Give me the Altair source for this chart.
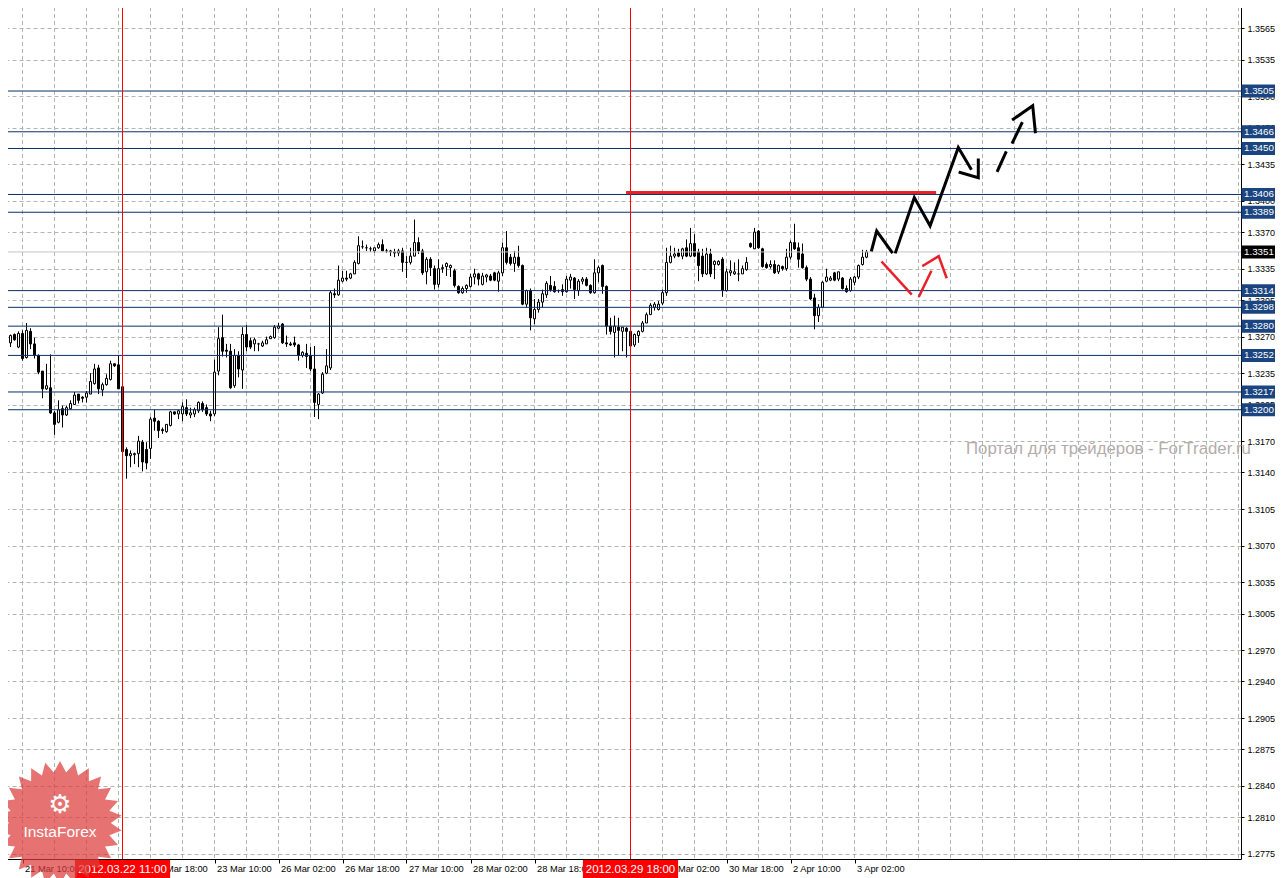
import math
import altair as alt
import pandas as pd

# ---------------- data ----------------
FIRST_BAR = -5  # bar index 0 = 21 Mar 10:00 (H1 bars)

opens = [1.3261, 1.3275, 1.3264, 1.3272, 1.3260,
         1.3273, 1.3250, 1.3275, 1.3263, 1.3252, 1.3237, 1.3220, 1.3221, 1.3197, 1.3188,
         1.3201, 1.3195, 1.3201, 1.3205, 1.3215, 1.3212, 1.3212, 1.3215, 1.3225, 1.3240,
         1.3219, 1.3224, 1.3229, 1.3244, 1.3243, 1.3222, 1.3162, 1.3156, 1.3157, 1.3158,
         1.3169, 1.3162, 1.3163, 1.3192, 1.3189, 1.3181, 1.3179, 1.3185, 1.3198, 1.3196,
         1.3196, 1.3202, 1.3195, 1.3196, 1.3199, 1.3206, 1.3202, 1.3196, 1.3196, 1.3237,
         1.3269, 1.3257, 1.3256, 1.3223, 1.3252, 1.3238, 1.3272, 1.3266, 1.3263, 1.3263,
         1.3261, 1.3263, 1.3268, 1.3269, 1.3278, 1.3282, 1.3264, 1.3263, 1.3264, 1.3262,
         1.3252, 1.3254, 1.3252, 1.3239, 1.3205, 1.3216, 1.3235, 1.3240, 1.3311, 1.3310,
         1.3323, 1.3326, 1.3326, 1.3330, 1.3340, 1.3356, 1.3355, 1.3354, 1.3352, 1.3355,
         1.3358, 1.3352, 1.3352, 1.3351, 1.3350, 1.3352, 1.3341, 1.3341, 1.3347, 1.3360,
         1.3352, 1.3332, 1.3344, 1.3335, 1.3320, 1.3335, 1.3337, 1.3336, 1.3333, 1.3318,
         1.3312, 1.3316, 1.3318, 1.3327, 1.3330, 1.3320, 1.3327, 1.3328, 1.3331, 1.3323,
         1.3331, 1.3355, 1.3346, 1.3340, 1.3346, 1.3338, 1.3301, 1.3314, 1.3287, 1.3296,
         1.3303, 1.3310, 1.3319, 1.3318, 1.3314, 1.3315, 1.3313, 1.3324, 1.3326, 1.3314,
         1.3323, 1.3325, 1.3319, 1.3312, 1.3331, 1.3338, 1.3318, 1.3280, 1.3274, 1.3279,
         1.3275, 1.3278, 1.3275, 1.3262, 1.3271, 1.3275, 1.3283, 1.3291, 1.3298, 1.3296,
         1.3302, 1.3312, 1.3341, 1.3347, 1.3350, 1.3347, 1.3355, 1.3347, 1.3359, 1.3351,
         1.3347, 1.3330, 1.3349, 1.3339, 1.3339, 1.3344, 1.3314, 1.3331, 1.3330, 1.3330,
         1.3330, 1.3334, 1.3359, 1.3354, 1.3371, 1.3354, 1.3339, 1.3337, 1.3339, 1.3332,
         1.3337, 1.3335, 1.3346, 1.3360, 1.3355, 1.3349, 1.3336, 1.3325, 1.3307, 1.3290,
         1.3298, 1.3323, 1.3324, 1.3331, 1.3325, 1.3326, 1.3316, 1.3314, 1.3322, 1.3327,
         1.3339, 1.3346]

highs = [1.3281, 1.3275, 1.3272, 1.3273, 1.3275,
         1.3276, 1.3283, 1.3278, 1.3269, 1.3253, 1.3237, 1.3244, 1.3253, 1.3199, 1.3209,
         1.3204, 1.3204, 1.3209, 1.3217, 1.3215, 1.3213, 1.3218, 1.3235, 1.3244, 1.3243,
         1.3226, 1.3234, 1.3247, 1.3244, 1.3252, 1.3224, 1.3164, 1.3161, 1.3159, 1.3175,
         1.3171, 1.3169, 1.3193, 1.3200, 1.3190, 1.3183, 1.3186, 1.3199, 1.3198, 1.3200,
         1.3207, 1.3210, 1.3202, 1.3202, 1.3208, 1.3208, 1.3205, 1.3199, 1.3248, 1.3279,
         1.3291, 1.3263, 1.3263, 1.3258, 1.3256, 1.3279, 1.3281, 1.3269, 1.3269, 1.3264,
         1.3266, 1.3270, 1.3271, 1.3281, 1.3283, 1.3283, 1.3271, 1.3265, 1.3270, 1.3263,
         1.3256, 1.3263, 1.3260, 1.3261, 1.3216, 1.3236, 1.3258, 1.3314, 1.3316, 1.3338,
         1.3333, 1.3333, 1.3331, 1.3343, 1.3366, 1.3362, 1.3358, 1.3356, 1.3355, 1.3360,
         1.3363, 1.3354, 1.3353, 1.3354, 1.3354, 1.3355, 1.3347, 1.3355, 1.3382, 1.3365,
         1.3354, 1.3346, 1.3346, 1.3338, 1.3344, 1.3339, 1.3341, 1.3339, 1.3335, 1.3319,
         1.3318, 1.3320, 1.3330, 1.3335, 1.3331, 1.3331, 1.3330, 1.3330, 1.3332, 1.3333,
         1.3360, 1.3371, 1.3349, 1.3352, 1.3357, 1.3339, 1.3315, 1.3316, 1.3306, 1.3306,
         1.3315, 1.3323, 1.3328, 1.3323, 1.3315, 1.3320, 1.3328, 1.3330, 1.3327, 1.3325,
         1.3327, 1.3327, 1.3320, 1.3344, 1.3338, 1.3339, 1.3319, 1.3288, 1.3290, 1.3288,
         1.3279, 1.3279, 1.3277, 1.3273, 1.3276, 1.3285, 1.3293, 1.3302, 1.3303, 1.3304,
         1.3315, 1.3355, 1.3357, 1.3355, 1.3354, 1.3355, 1.3363, 1.3374, 1.3368, 1.3354,
         1.3354, 1.3355, 1.3354, 1.3343, 1.3343, 1.3346, 1.3335, 1.3343, 1.3341, 1.3344,
         1.3338, 1.3346, 1.3360, 1.3374, 1.3372, 1.3355, 1.3341, 1.3343, 1.3343, 1.3339,
         1.3338, 1.3354, 1.3362, 1.3378, 1.3360, 1.3359, 1.3338, 1.3327, 1.3311, 1.3301,
         1.3323, 1.3335, 1.3328, 1.3332, 1.3332, 1.3327, 1.3319, 1.3327, 1.3328, 1.3339,
         1.3353, 1.3353]

lows = [1.3260, 1.3264, 1.3260, 1.3266, 1.3259,
        1.3247, 1.3249, 1.3258, 1.3249, 1.3234, 1.3211, 1.3219, 1.3196, 1.3176, 1.3187,
        1.3183, 1.3194, 1.3200, 1.3205, 1.3206, 1.3207, 1.3207, 1.3215, 1.3224, 1.3215,
        1.3213, 1.3223, 1.3228, 1.3241, 1.3220, 1.3140, 1.3134, 1.3145, 1.3148, 1.3145,
        1.3141, 1.3143, 1.3153, 1.3180, 1.3173, 1.3177, 1.3178, 1.3184, 1.3195, 1.3191,
        1.3189, 1.3194, 1.3192, 1.3193, 1.3197, 1.3198, 1.3194, 1.3189, 1.3194, 1.3233,
        1.3251, 1.3250, 1.3220, 1.3221, 1.3231, 1.3220, 1.3256, 1.3258, 1.3256, 1.3256,
        1.3260, 1.3263, 1.3268, 1.3268, 1.3277, 1.3263, 1.3260, 1.3261, 1.3260, 1.3247,
        1.3250, 1.3240, 1.3237, 1.3193, 1.3191, 1.3215, 1.3234, 1.3238, 1.3307, 1.3309,
        1.3322, 1.3323, 1.3325, 1.3330, 1.3339, 1.3354, 1.3352, 1.3351, 1.3350, 1.3354,
        1.3352, 1.3350, 1.3347, 1.3346, 1.3347, 1.3332, 1.3326, 1.3339, 1.3347, 1.3349,
        1.3329, 1.3320, 1.3328, 1.3315, 1.3317, 1.3331, 1.3328, 1.3327, 1.3317, 1.3311,
        1.3311, 1.3312, 1.3317, 1.3320, 1.3319, 1.3319, 1.3322, 1.3323, 1.3323, 1.3313,
        1.3328, 1.3339, 1.3338, 1.3332, 1.3336, 1.3300, 1.3298, 1.3276, 1.3282, 1.3293,
        1.3298, 1.3307, 1.3313, 1.3312, 1.3312, 1.3309, 1.3312, 1.3316, 1.3306, 1.3309,
        1.3320, 1.3318, 1.3311, 1.3311, 1.3322, 1.3311, 1.3272, 1.3272, 1.3250, 1.3252,
        1.3256, 1.3250, 1.3247, 1.3260, 1.3264, 1.3274, 1.3283, 1.3291, 1.3295, 1.3295,
        1.3300, 1.3309, 1.3340, 1.3345, 1.3346, 1.3344, 1.3346, 1.3346, 1.3346, 1.3323,
        1.3327, 1.3329, 1.3327, 1.3325, 1.3338, 1.3308, 1.3313, 1.3328, 1.3329, 1.3323,
        1.3330, 1.3333, 1.3355, 1.3354, 1.3354, 1.3336, 1.3335, 1.3335, 1.3330, 1.3330,
        1.3333, 1.3333, 1.3344, 1.3353, 1.3336, 1.3335, 1.3323, 1.3305, 1.3277, 1.3284,
        1.3298, 1.3322, 1.3323, 1.3323, 1.3323, 1.3315, 1.3312, 1.3313, 1.3319, 1.3325,
        1.3338, 1.3345]

closes = [1.3274, 1.3265, 1.3271, 1.3267, 1.3273,
          1.3249, 1.3276, 1.3263, 1.3252, 1.3236, 1.3220, 1.3223, 1.3197, 1.3186, 1.3200,
          1.3195, 1.3202, 1.3206, 1.3214, 1.3209, 1.3211, 1.3216, 1.3227, 1.3239, 1.3220,
          1.3224, 1.3230, 1.3244, 1.3242, 1.3220, 1.3160, 1.3156, 1.3158, 1.3158, 1.3170,
          1.3150, 1.3149, 1.3191, 1.3189, 1.3180, 1.3180, 1.3186, 1.3198, 1.3196, 1.3199,
          1.3203, 1.3196, 1.3197, 1.3200, 1.3207, 1.3200, 1.3196, 1.3194, 1.3236, 1.3268,
          1.3256, 1.3256, 1.3221, 1.3252, 1.3239, 1.3272, 1.3260, 1.3260, 1.3267, 1.3263,
          1.3264, 1.3267, 1.3270, 1.3279, 1.3280, 1.3264, 1.3263, 1.3262, 1.3262, 1.3252,
          1.3255, 1.3251, 1.3239, 1.3207, 1.3215, 1.3234, 1.3242, 1.3312, 1.3310, 1.3324,
          1.3326, 1.3325, 1.3330, 1.3341, 1.3357, 1.3356, 1.3355, 1.3354, 1.3355, 1.3358,
          1.3352, 1.3352, 1.3351, 1.3350, 1.3352, 1.3341, 1.3341, 1.3347, 1.3360, 1.3352,
          1.3331, 1.3344, 1.3336, 1.3320, 1.3335, 1.3336, 1.3340, 1.3338, 1.3319, 1.3312,
          1.3316, 1.3319, 1.3327, 1.3330, 1.3325, 1.3328, 1.3329, 1.3324, 1.3324, 1.3331,
          1.3355, 1.3341, 1.3340, 1.3346, 1.3338, 1.3301, 1.3314, 1.3288, 1.3296, 1.3303,
          1.3311, 1.3321, 1.3315, 1.3313, 1.3314, 1.3313, 1.3325, 1.3327, 1.3315, 1.3323,
          1.3325, 1.3319, 1.3312, 1.3331, 1.3336, 1.3318, 1.3280, 1.3275, 1.3280, 1.3276,
          1.3279, 1.3275, 1.3261, 1.3272, 1.3275, 1.3283, 1.3291, 1.3300, 1.3301, 1.3301,
          1.3312, 1.3341, 1.3347, 1.3349, 1.3347, 1.3354, 1.3347, 1.3359, 1.3347, 1.3338,
          1.3330, 1.3349, 1.3330, 1.3342, 1.3342, 1.3314, 1.3332, 1.3333, 1.3332, 1.3330,
          1.3335, 1.3341, 1.3356, 1.3370, 1.3355, 1.3337, 1.3336, 1.3339, 1.3331, 1.3338,
          1.3335, 1.3346, 1.3360, 1.3354, 1.3344, 1.3336, 1.3325, 1.3306, 1.3290, 1.3298,
          1.3322, 1.3327, 1.3326, 1.3324, 1.3332, 1.3316, 1.3313, 1.3325, 1.3327, 1.3338,
          1.3346, 1.3351]

# time-axis labels (every 16 bars); the two hidden under the red date boxes are blank
x_tick_bars = [-16, 0, 16, 32, 48, 64, 80, 96, 112, 128, 144, 160, 176, 192, 208]
x_tick_labels = ["20 Mar 18:00", "21 Mar 10:00", "", "22 Mar 18:00",
                 "23 Mar 10:00", "26 Mar 02:00", "26 Mar 18:00", "27 Mar 10:00",
                 "28 Mar 02:00", "28 Mar 18:00", "", "30 Mar 02:00",
                 "30 Mar 18:00", "2 Apr 10:00", "3 Apr 02:00"]

y_tick_values = [1.3565, 1.3535, 1.3500, 1.3470, 1.3435, 1.3400, 1.3370, 1.3335,
                 1.3305, 1.3270, 1.3235, 1.3205, 1.3170, 1.3140, 1.3105, 1.3070,
                 1.3035, 1.3005, 1.2970, 1.2940, 1.2905, 1.2875, 1.2840, 1.2810, 1.2775]

level_prices = [1.3505, 1.3466, 1.3450, 1.3406, 1.3389, 1.3314, 1.3298,
                1.3280, 1.3252, 1.3217, 1.3200]
bid_price = 1.3351

marker_bars = [25, 152]
marker_labels = ["2012.03.22 11:00", "2012.03.29 18:00"]

resist_bars = [150.9, 228.4]
resist_price = 1.3408

black_seg = [0, 0, 0, 1, 1, 1, 1, 1, 2, 2, 2, 3, 3, 4, 4, 5, 5, 5]
black_bars = [212.3, 213.55, 217.3, 218.3, 222.95, 226.9, 233.95, 237.05,
              234.4, 238.95, 238.95, 243.8, 245.8, 247.55, 249.8, 247.7, 252.55, 253.2]
black_prices = [1.3353, 1.3371, 1.3351, 1.3351, 1.3403, 1.3376, 1.3451, 1.3431,
                1.3427, 1.3422, 1.3439, 1.3429, 1.3446, 1.3456, 1.3474, 1.3478, 1.3491, 1.3466]

red_seg = [0, 0, 1, 1, 2, 2, 2]
red_bars = [214.95, 222.1, 224.2, 227.1, 225.2, 229.05, 230.95]
red_prices = [1.3341, 1.3311, 1.3309, 1.3332, 1.3338, 1.3347, 1.3327]

watermark_text = "Портал для трейдеров - ForTrader.ru"
logo_text = "InstaForex"

# ---------------- styling ----------------
FONT = "Liberation Sans"
GRID = "#AEB8AE"
NAVY = "#0A2F6C"
NAVY_BOX = "#1A4580"
RED = "#FF0000"
W, H = 1241, 859
XS = alt.Scale(domain=[-5.625, 304.625], nice=False, zero=False)
YS = alt.Scale(domain=[1.27701, 1.35921], nice=False, zero=False)

bars = list(range(FIRST_BAR, FIRST_BAR + len(opens)))
candles = pd.DataFrame({"bar": bars, "open": opens, "high": highs,
                        "low": lows, "close": closes})

label_expr = "[" + ",".join("'%s'" % s for s in x_tick_labels) + "][round((datum.value + 16) / 16)]"

X_AXIS = alt.Axis(orient="bottom", values=x_tick_bars, labelExpr=label_expr, grid=False,
                  domainColor="black", domainWidth=1, tickColor="black", tickSize=4,
                  labelAlign="left", labelBaseline="top", labelPadding=1, labelOffset=2,
                  labelFont=FONT, labelFontSize=9.3, labelColor="black",
                  labelOverlap=False, labelFlush=False, title=None)
Y_AXIS = alt.Axis(orient="right", values=y_tick_values, format=".4f", grid=True,
                  gridColor=GRID, gridDash=[4, 3], gridWidth=1,
                  domainColor="black", domainWidth=1, tickColor="black", tickSize=3,
                  labelPadding=3, labelFont=FONT, labelFontSize=9, labelColor="black",
                  labelOverlap=False, labelFlush=False, title=None)


def X(field):
    return alt.X(field, scale=XS, axis=X_AXIS)


def Y(field):
    return alt.Y(field, scale=YS, axis=Y_AXIS)


# vertical dashed grid every 8 bars
vgrid = alt.Chart(pd.DataFrame({"bar": list(range(0, 305, 8))})).mark_rule(
    color=GRID, strokeDash=[4, 3], strokeWidth=1
).encode(x=X("bar:Q"))

wicks = alt.Chart(candles).mark_rule(color="black", strokeWidth=1).encode(
    x=X("bar:Q"), y=Y("low:Q"), y2="high:Q")

bodies = alt.Chart(candles).transform_calculate(
    xl="datum.bar - 0.25", xr="datum.bar + 0.25",
    fillc="datum.close >= datum.open ? 'white' : 'black'"
).mark_rect(stroke="black", strokeWidth=1).encode(
    x=X("xl:Q"), x2="xr:Q", y=Y("open:Q"), y2="close:Q",
    fill=alt.Fill("fillc:N", scale=None))

bid_line = alt.Chart(pd.DataFrame({"price": [bid_price]})).mark_rule(
    color="#C4C4C4", strokeWidth=1).encode(y=Y("price:Q"))

levels = pd.DataFrame({"price": level_prices,
                       "label": ["%.4f" % p for p in level_prices]})
level_lines = alt.Chart(levels).mark_rule(color=NAVY, strokeWidth=1).encode(y=Y("price:Q"))

red_lines = alt.Chart(pd.DataFrame({"bar": marker_bars})).mark_rule(
    color=RED, strokeWidth=1).encode(x=X("bar:Q"))

resist = alt.Chart(pd.DataFrame({"b1": [resist_bars[0]], "b2": [resist_bars[1]],
                                 "price": [resist_price]})).mark_rule(
    color="#E8202A", strokeWidth=3).encode(x=X("b1:Q"), x2="b2:Q", y=Y("price:Q"))

black_df = pd.DataFrame({"seg": black_seg, "bar": black_bars, "price": black_prices,
                         "ord": list(range(len(black_bars)))})
black_path = alt.Chart(black_df).mark_line(color="black", strokeWidth=3,
                                           strokeJoin="miter", strokeCap="square").encode(
    x=X("bar:Q"), y=Y("price:Q"), detail="seg:N", order="ord:Q")

red_df = pd.DataFrame({"seg": red_seg, "bar": red_bars, "price": red_prices,
                       "ord": list(range(len(red_bars)))})
red_path = alt.Chart(red_df).mark_line(color="#E8202A", strokeWidth=2.5,
                                       strokeJoin="miter", strokeCap="square").encode(
    x=X("bar:Q"), y=Y("price:Q"), detail="seg:N", order="ord:Q")

# right-hand price boxes
box_half = 0.00062
lvl_boxes = alt.Chart(levels).transform_calculate(
    lo="datum.price - %f" % box_half, hi="datum.price + %f" % box_half
).mark_rect(fill=NAVY_BOX).encode(
    x=alt.value(1241.5), x2=alt.value(1275), y=Y("lo:Q"), y2="hi:Q")
lvl_text = alt.Chart(levels).mark_text(align="left", baseline="middle", color="white",
                                       font=FONT, fontSize=9.8).encode(
    x=alt.value(1244), y=Y("price:Q"), text="label:N")

bid_df = pd.DataFrame({"price": [bid_price], "label": ["%.4f" % bid_price]})
bid_box = alt.Chart(bid_df).transform_calculate(
    lo="datum.price - %f" % box_half, hi="datum.price + %f" % box_half
).mark_rect(fill="black").encode(
    x=alt.value(1241.5), x2=alt.value(1275), y=Y("lo:Q"), y2="hi:Q")
bid_text = alt.Chart(bid_df).mark_text(align="left", baseline="middle", color="white",
                                       font=FONT, fontSize=9.8).encode(
    x=alt.value(1244), y=Y("price:Q"), text="label:N")

# red date boxes at the bottom
mk = pd.DataFrame({"bar": marker_bars, "label": marker_labels})
mk_boxes = alt.Chart(mk).transform_calculate(
    bl="datum.bar - 11.9", br="datum.bar + 11.9"
).mark_rect(fill=RED).encode(
    x=X("bl:Q"), x2="br:Q", y=alt.value(860), y2=alt.value(880))
mk_text = alt.Chart(mk).mark_text(align="center", baseline="middle", color="white",
                                  font=FONT, fontSize=11.5).encode(
    x=X("bar:Q"), y=alt.value(869.5), text="label:N")

# watermark
watermark = alt.Chart(pd.DataFrame({"t": [watermark_text]})).mark_text(
    align="left", baseline="middle", color="#B3ACAC", font=FONT, fontSize=16.8
).encode(x=alt.value(966), y=alt.value(449), text="t:N")

# InstaForex badge (starburst)
n_spk = 26
pts = []
for k in range(2 * n_spk):
    r = 1.0 if k % 2 == 0 else 0.82
    a = math.pi * k / n_spk - math.pi / 2
    pts.append("%.3f,%.3f" % (r * math.cos(a), r * math.sin(a)))
star_path = "M" + " L".join(pts) + " Z"
logo_df = pd.DataFrame({"t": [logo_text]})
star = alt.Chart(logo_df).mark_point(
    shape=star_path, filled=True, fill="#DD3B3B", opacity=0.72, size=15376, strokeWidth=0
).encode(x=alt.value(60), y=alt.value(823))
gear = alt.Chart(logo_df).mark_text(
    text="⚙", color="white", fontSize=26, font="DejaVu Sans", baseline="middle", align="center"
).encode(x=alt.value(60), y=alt.value(805))
logo = alt.Chart(logo_df).mark_text(
    color="white", font=FONT, fontSize=15.5, baseline="middle", align="center"
).encode(x=alt.value(60), y=alt.value(832), text="t:N")

chart = alt.layer(
    vgrid, wicks, bodies, bid_line, level_lines, red_lines, resist,
    black_path, red_path, watermark, lvl_boxes, lvl_text, bid_box, bid_text,
    mk_boxes, mk_text, star, gear, logo,
).properties(
    width=W, height=H,
    padding={"left": -8, "top": -8, "right": 34, "bottom": 19},
    autosize=alt.AutoSizeParams(type="none"),
    background="white",
).configure_view(stroke=None)

chart.save("out.html", embed_options={"renderer": "svg", "actions": False})
